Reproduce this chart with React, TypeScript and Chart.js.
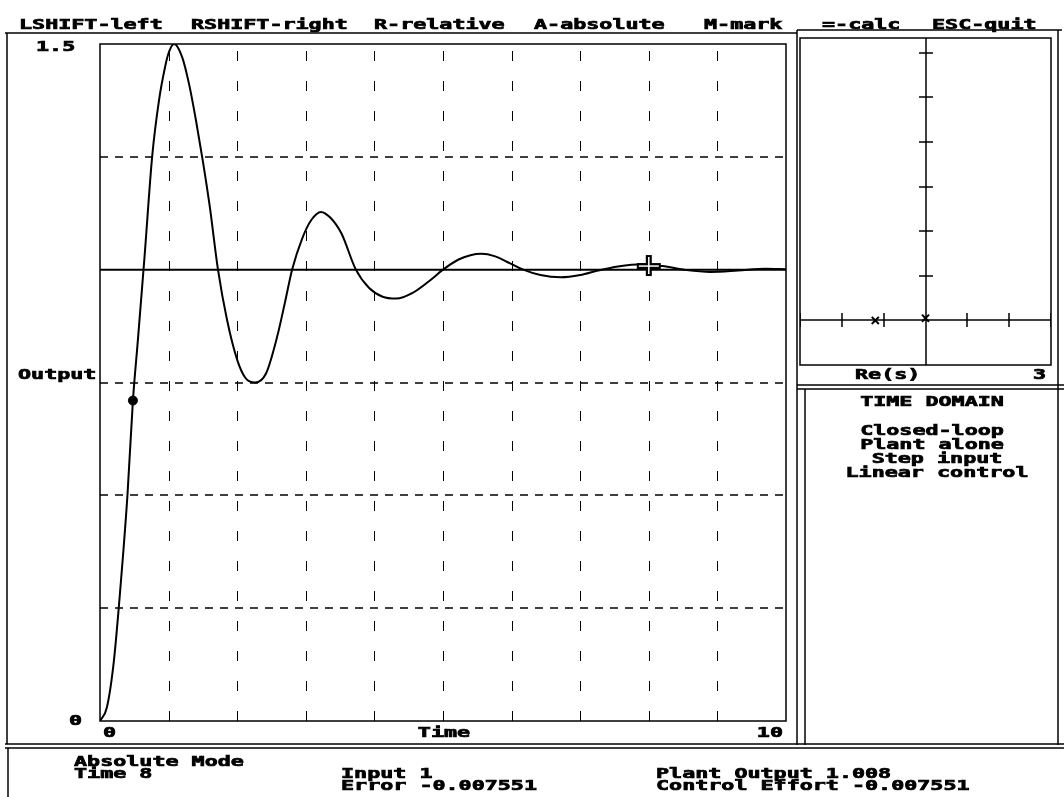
import { useEffect, useRef } from "react";
import { Chart, registerables } from "chart.js";

Chart.register(...registerables);

// ---- data ----
const timeValues = [
  0, 0.1, 0.2, 0.3, 0.4, 0.48, 0.55, 0.65, 0.76, 0.86, 0.95, 1.0, 1.08, 1.2, 1.3, 1.4, 1.5, 1.6, 1.72, 1.85, 2.0,
  2.12, 2.26, 2.42, 2.58, 2.7, 2.8, 2.95, 3.08, 3.22, 3.36, 3.52, 3.73, 3.92, 4.12, 4.32, 4.55, 4.8, 5.0,
  5.22, 5.4, 5.56, 5.75, 5.98, 6.17, 6.42, 6.72, 7.0, 7.26, 7.55, 7.9, 8.2, 8.55, 8.9, 9.3, 9.7, 10,
];
const outputValues = [
  0, 0.03, 0.13, 0.3, 0.5, 0.71, 0.84, 1.03, 1.25, 1.375, 1.45, 1.48, 1.5, 1.47, 1.41, 1.33, 1.24, 1.14, 1.0, 0.89, 0.8,
  0.76, 0.75, 0.77, 0.85, 0.93, 1.0, 1.07, 1.11, 1.128, 1.115, 1.08, 1.0, 0.96, 0.94, 0.936, 0.948, 0.975, 1.0,
  1.022, 1.032, 1.035, 1.03, 1.014, 1.0, 0.988, 0.983, 0.988, 0.998, 1.007, 1.012, 1.008, 0.999, 0.995, 0.998, 1.002, 1.001,
];
const stepTimes = [0, 10];
const stepValues = [1, 1];
const markTimes = [0.48];
const markValues = [0.71];
const cursorTimes = [8];
const cursorValues = [1.008];

const xGridTicks = [1, 2, 3, 4, 5, 6, 7, 8, 9];
const yGridTicks = [0.25, 0.5, 0.75, 1.25];
const xTickValues = [0, 10];
const xTickLabels = ["0", "10"];
const yTickValues = [0, 1.5];
const yTickLabels = ["0", "1.5"];
const xAxisTitle = "Time";
const yAxisTitle = "Output";

const poleRe = [-1.2, 0];
const poleIm = [0, 0.05];
const reTicks = [-3, -2, -1, 1, 2, 3];
const imTicks = [1, 2, 3, 4, 5, 6];

const headerItems = ["LSHIFT-left", "RSHIFT-right", "R-relative", "A-absolute", "M-mark", "=-calc", "ESC-quit"];
const headerX = [19, 191, 374, 534, 704, 822, 932];
const panelTitle = "TIME DOMAIN";
const panelLines = ["Closed-loop", "Plant alone", "Step input", "Linear control"];
const statusLeft = ["Absolute Mode", "Time 8"];
const statusMid = ["Input 1", "Error -0.007551"];
const statusRight = ["Plant Output 1.008", "Control Effort -0.007551"];

// ---- helpers ----
const SX = 1.55;
function dosText(ctx: CanvasRenderingContext2D, s: string, x: number, y: number, align: string = "left") {
  ctx.save();
  ctx.font = 'bold 14px "DejaVu Sans Mono"';
  ctx.textBaseline = "middle";
  ctx.textAlign = "left";
  ctx.fillStyle = "#000";
  ctx.strokeStyle = "#000";
  const w = ctx.measureText(s).width * SX;
  let x0 = x;
  if (align === "center") x0 = x - w / 2;
  else if (align === "right") x0 = x - w;
  ctx.translate(x0, y);
  ctx.scale(SX, 1);
  ctx.lineWidth = 0.7;
  ctx.fillText(s, 0, 0);
  ctx.strokeText(s, 0, 0);
  ctx.restore();
}
function line(ctx: CanvasRenderingContext2D, x1: number, y1: number, x2: number, y2: number, w = 1.5) {
  ctx.beginPath();
  ctx.lineWidth = w;
  ctx.moveTo(x1, y1);
  ctx.lineTo(x2, y2);
  ctx.stroke();
}

const screenPlugin = {
  id: "screen",
  beforeDraw(chart: any) {
    const ctx = chart.ctx as CanvasRenderingContext2D;
    ctx.save();
    ctx.fillStyle = "#fff";
    ctx.fillRect(0, 0, chart.width, chart.height);
    ctx.strokeStyle = "#000";
    // frames
    line(ctx, 5, 33, 797, 33);
    line(ctx, 797, 30, 1062, 30);
    ctx.lineWidth = 1.5;
    ctx.strokeRect(800, 38, 251, 327);
    line(ctx, 1058, 30, 1058, 745);
    line(ctx, 797, 30, 797, 745);
    line(ctx, 797, 385, 1064, 385);
    line(ctx, 797, 389, 1064, 389);
    line(ctx, 805, 389, 805, 745);
    line(ctx, 7, 33, 7, 744);
    line(ctx, 5, 744, 1064, 744);
    line(ctx, 5, 748, 1064, 748);
    line(ctx, 8, 748, 8, 797);

    // texts
    headerItems.forEach((s, i) => dosText(ctx, s, headerX[i], 25));
    dosText(ctx, "Re(s)", 855, 375);
    dosText(ctx, "3", 1046, 375, "right");
    dosText(ctx, panelTitle, 932, 402, "center");
    const pc = [932, 932, 937, 937];
    const py = [431, 445, 459, 473];
    panelLines.forEach((s, i) => dosText(ctx, s, pc[i], py[i], "center"));
    statusLeft.forEach((s, i) => dosText(ctx, s, 74, 762 + i * 12));
    statusMid.forEach((s, i) => dosText(ctx, s, 341, 774 + i * 12));
    statusRight.forEach((s, i) => dosText(ctx, s, 656, 774 + i * 12));

    const xs = chart.scales.x;
    const ys = chart.scales.y;
    const a = chart.chartArea;
    // tick labels
    dosText(ctx, xTickLabels[0], xs.getPixelForValue(xTickValues[0]) + 3, a.bottom + 12);
    dosText(ctx, xTickLabels[1], xs.getPixelForValue(xTickValues[1]) - 3, a.bottom + 12, "right");
    dosText(ctx, xAxisTitle, (a.left + a.right) / 2 + 1, a.bottom + 12, "center");
    dosText(ctx, yTickLabels[0], a.left - 18, ys.getPixelForValue(yTickValues[0]), "right");
    dosText(ctx, yTickLabels[1], 36, ys.getPixelForValue(yTickValues[1]) + 3);
    dosText(ctx, yAxisTitle, 18, 375);

    // grid
    ctx.strokeStyle = "#000";
    ctx.setLineDash([10, 20]);
    xGridTicks.forEach((t) => {
      const px = Math.round(xs.getPixelForValue(t)) + 0.5;
      ctx.beginPath();
      ctx.lineWidth = 1;
      ctx.moveTo(px, a.bottom);
      ctx.lineTo(px, a.top);
      ctx.stroke();
    });
    ctx.setLineDash([8, 7]);
    yGridTicks.forEach((v) => {
      const p = Math.round(ys.getPixelForValue(v));
      ctx.beginPath();
      ctx.lineWidth = 1.5;
      ctx.moveTo(a.left, p);
      ctx.lineTo(a.right, p);
      ctx.stroke();
    });
    ctx.setLineDash([]);
    ctx.restore();
  },
  afterDatasetsDraw(chart: any) {
    const ctx = chart.ctx as CanvasRenderingContext2D;
    const a = chart.chartArea;
    const xs = chart.scales.x;
    const ys = chart.scales.y;
    ctx.save();
    ctx.strokeStyle = "#000";
    ctx.lineWidth = 1.5;
    ctx.strokeRect(a.left, a.top, a.right - a.left, a.bottom - a.top);
    // cursor marker
    cursorTimes.forEach((t, i) => {
      const cx = xs.getPixelForValue(t);
      const cy = ys.getPixelForValue(cursorValues[i]);
      ctx.strokeStyle = "#000";
      line(ctx, cx - 12, cy, cx + 12, cy, 6);
      line(ctx, cx, cy - 11, cx, cy + 10, 6);
      ctx.strokeStyle = "#fff";
      line(ctx, cx - 10, cy, cx + 10, cy, 1.5);
      line(ctx, cx, cy - 9, cx, cy + 8, 1.5);
    });
    ctx.restore();
  },
};

const polePlugin = {
  id: "poleAxes",
  beforeDatasetsDraw(chart: any) {
    const ctx = chart.ctx as CanvasRenderingContext2D;
    const xs = chart.scales.x;
    const ys = chart.scales.y;
    const a = chart.chartArea;
    const ox = Math.round(xs.getPixelForValue(0));
    const oy = Math.round(ys.getPixelForValue(0));
    ctx.save();
    ctx.strokeStyle = "#000";
    line(ctx, ox, a.top, ox, a.bottom, 1.5);
    line(ctx, a.left, oy, a.right, oy, 1.5);
    imTicks.forEach((v) => {
      const p = Math.round(ys.getPixelForValue(v));
      line(ctx, ox - 7, p, ox + 7, p, 1.5);
    });
    reTicks.forEach((v) => {
      const p = Math.round(xs.getPixelForValue(v));
      line(ctx, p, oy - 7, p, oy + 7, 1.5);
    });
    ctx.restore();
  },
};

export default function App() {
  const mainRef = useRef<HTMLCanvasElement>(null);
  const poleRef = useRef<HTMLCanvasElement>(null);

  useEffect(() => {
    document.body.style.margin = "0";
    const main = new Chart(mainRef.current!, {
      type: "line",
      data: {
        datasets: [
          {
            data: timeValues.map((t, i) => ({ x: t, y: outputValues[i] })),
            borderColor: "#000",
            borderWidth: 2,
            pointRadius: 0,
            cubicInterpolationMode: "monotone",
            fill: false,
          },
          {
            data: stepTimes.map((t, i) => ({ x: t, y: stepValues[i] })),
            borderColor: "#000",
            borderWidth: 2,
            pointRadius: 0,
            fill: false,
          },
          {
            data: markTimes.map((t, i) => ({ x: t, y: markValues[i] })),
            showLine: false,
            pointRadius: 4.5,
            pointBackgroundColor: "#000",
            pointBorderColor: "#000",
          },
        ],
      },
      options: {
        responsive: false,
        animation: false,
        devicePixelRatio: 1,
        layout: { autoPadding: false, padding: { left: 100, right: 1064 - 786, top: 44, bottom: 797 - 721 } },
        scales: {
          x: { type: "linear", min: 0, max: 10, display: false },
          y: { type: "linear", min: 0, max: 1.5, display: false },
        },
        plugins: { legend: { display: false }, tooltip: { enabled: false } },
        events: [],
      } as any,
      plugins: [screenPlugin],
    });

    const pole = new Chart(poleRef.current!, {
      type: "scatter",
      data: {
        datasets: [
          {
            data: poleRe.map((r, i) => ({ x: r, y: poleIm[i] })),
            pointStyle: "crossRot",
            pointRadius: 5,
            borderColor: "#000",
            borderWidth: 2,
          },
        ],
      },
      options: {
        responsive: false,
        animation: false,
        devicePixelRatio: 1,
        layout: { autoPadding: false, padding: 0 },
        scales: {
          x: { type: "linear", min: -3, max: 3, display: false },
          y: { type: "linear", min: -1, max: 6.33, display: false },
        },
        plugins: { legend: { display: false }, tooltip: { enabled: false } },
        events: [],
      } as any,
      plugins: [polePlugin],
    });

    return () => {
      main.destroy();
      pole.destroy();
    };
  }, []);

  return (
    <div style={{ position: "absolute", left: 0, top: 0, width: 1064, height: 797, background: "#fff" }}>
      <canvas
        ref={mainRef}
        width={1064}
        height={797}
        style={{ position: "absolute", left: 0, top: 0, width: 1064, height: 797 }}
      />
      <canvas
        ref={poleRef}
        width={251}
        height={327}
        style={{ position: "absolute", left: 800, top: 38, width: 251, height: 327 }}
      />
    </div>
  );
}
